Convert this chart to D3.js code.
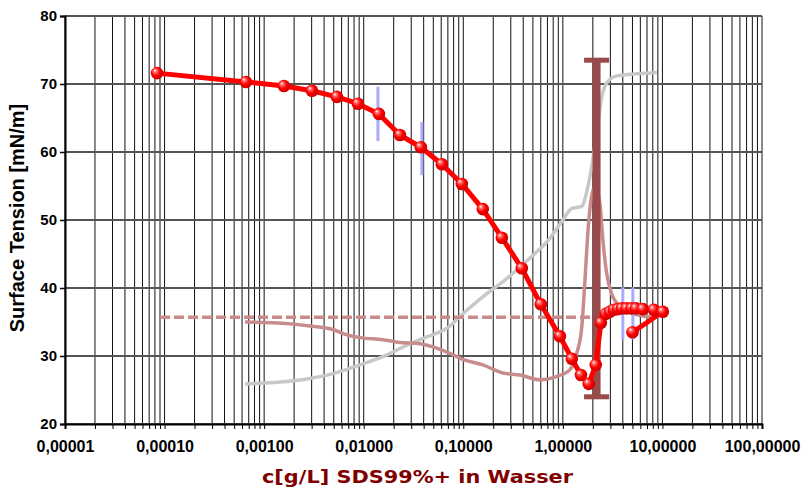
<!DOCTYPE html>
<html>
<head>
<meta charset="utf-8">
<script src="https://cdn.jsdelivr.net/npm/d3@7/dist/d3.min.js"></script>
<style>
  html, body { margin: 0; padding: 0; background: #fff; }
  svg { display: block; }
</style>
</head>
<body>
<svg id="chart" width="801" height="488"></svg>
<script>
// Surface tension of SDS solutions vs. concentration (log scale)

// Tick labels
const xTickValues = [1e-5, 1e-4, 1e-3, 1e-2, 1e-1, 1, 10, 100];
const xTickLabels = ["0,00001", "0,00010", "0,00100", "0,01000", "0,10000", "1,00000", "10,00000", "100,00000"];
const yTickValues = [20, 30, 40, 50, 60, 70, 80];

// Measured series (red markers)
const measX = [8.4e-5, 6.56e-4, 1.58e-3, 3.02e-3, 5.38e-3, 8.75e-3, 0.0142, 0.0231, 0.0375, 0.061,
  0.0968, 0.157, 0.244, 0.387, 0.601, 0.933, 1.23, 1.52, 1.82, 2.14, 2.41, 2.70, 2.96, 3.25,
  3.57, 3.91, 4.36, 4.90, 5.41, 6.35, 8.19, 10.1, 5.01];
const measY = [71.6, 70.3, 69.7, 69.0, 68.1, 67.1, 65.6, 62.5, 60.7, 58.2,
  55.3, 51.6, 47.4, 42.9, 37.6, 32.9, 29.6, 27.2, 25.9, 28.7, 34.9, 36.2, 36.5, 36.8,
  36.9, 37.0, 37.0, 37.0, 37.0, 36.9, 36.8, 36.5, 33.5];

// Error bars on selected points
const errX = [0.0139, 0.0384, 4.0, 5.05];
const errLow = [61.6, 56.6, 32.4, 32.4];
const errHigh = [69.6, 64.4, 40.1, 40.1];

// Reference curve (gray)
const grayX = [6.42e-4, 1.545e-3, 2.88e-3, 4.91e-3, 9.16e-3, 0.0156, 0.0272, 0.0431, 0.0734, 0.0924,
  0.157, 0.274, 0.467, 0.740, 1.00, 1.23, 1.55, 1.74, 1.96, 2.25, 2.46, 2.77, 3.49, 5.53, 8.79];
const grayY = [25.9, 26.2, 26.7, 27.4, 28.7, 29.9, 31.6, 32.8, 34.4, 35.8,
  38.7, 41.4, 44.4, 47.3, 50.0, 51.7, 52.0, 54.2, 58.1, 64.3, 68.1, 70.2, 71.2, 71.5, 71.7];

// Reference curve (rose)
const roseX = [6.42e-4, 1.545e-3, 2.88e-3, 4.91e-3, 6.18e-3, 9.16e-3, 0.0156, 0.0231, 0.0367, 0.0734,
  0.0991, 0.157, 0.250, 0.370, 0.588, 0.871, 1.18, 1.38, 1.55, 1.66, 1.80, 1.94, 2.10, 2.35,
  2.54, 2.75, 3.08, 3.74, 4.93, 7.83];
const roseY = [35.0, 34.8, 34.4, 33.9, 33.3, 32.7, 32.4, 32.0, 31.8, 30.4,
  29.5, 28.7, 27.5, 27.2, 26.5, 27.0, 28.0, 30.4, 34.3, 40.7, 49.0, 53.4, 54.9, 52.5,
  46.6, 42.2, 39.2, 37.3, 36.3, 35.7];

// Plateau level (dashed) and CMC marker
const plateauX = [9.0e-5, 3.0];
const plateauY = 35.7;
const cmcX = 2.18;
const cmcRange = [24.0, 73.5];

const svg = d3.select("#chart");
const plotLeft = 65, plotRight = 762, plotTop = 16, plotBottom = 424;

const x = d3.scaleLog().domain([1e-5, 100]).range([plotLeft, plotRight]);
const y = d3.scaleLinear().domain([20, 80]).range([plotBottom, plotTop]);

// gradient for the spherical markers
const defs = svg.append("defs");
const grad = defs.append("radialGradient").attr("id", "ball")
  .attr("cx", "45%").attr("cy", "45%").attr("r", "60%")
  .attr("fx", "32%").attr("fy", "28%");
grad.append("stop").attr("offset", "0%").attr("stop-color", "#ffffff");
grad.append("stop").attr("offset", "22%").attr("stop-color", "#ff7070");
grad.append("stop").attr("offset", "55%").attr("stop-color", "#ff0000");
grad.append("stop").attr("offset", "100%").attr("stop-color", "#c00000");

// all minor/major positions of the log axis
const gridX = [];
for (let e = -5; e <= 2; e++) {
  for (let m = 1; m <= 9; m++) {
    const v = m * Math.pow(10, e);
    if (v <= 100.0001) gridX.push(v);
  }
}

const grid = svg.append("g");
grid.selectAll("line.v").data(gridX).join("line")
  .attr("x1", d => x(d)).attr("x2", d => x(d))
  .attr("y1", plotTop).attr("y2", plotBottom)
  .attr("stroke", "#111").attr("stroke-width", 1);
grid.selectAll("line.h").data(yTickValues).join("line")
  .attr("x1", plotLeft).attr("x2", plotRight)
  .attr("y1", d => y(d)).attr("y2", d => y(d))
  .attr("stroke", "#555").attr("stroke-width", 2);

// axes
const xAxis = d3.axisBottom(x).tickValues(gridX).tickSize(5)
  .tickFormat(d => { const i = xTickValues.findIndex(v => Math.abs(v - d) / v < 1e-6); return i >= 0 ? xTickLabels[i] : ""; });
const gx = svg.append("g").attr("transform", `translate(0,${plotBottom})`).call(xAxis);
gx.select(".domain").attr("stroke", "#000").attr("stroke-width", 2);
gx.selectAll(".tick line").attr("stroke", "#000").attr("stroke-width", 1);
gx.selectAll(".tick text").attr("font-family", "Liberation Sans, Arial, sans-serif")
  .attr("font-weight", "bold").attr("font-size", "16px").attr("fill", "#000").attr("dy", "1.25em");

const yAxis = d3.axisLeft(y).tickValues(yTickValues).tickSize(5).tickFormat(d3.format("d"));
const gy = svg.append("g").attr("transform", `translate(${plotLeft},0)`).call(yAxis);
gy.select(".domain").attr("stroke", "#000").attr("stroke-width", 2);
gy.selectAll(".tick line").attr("stroke", "#000").attr("stroke-width", 1.5);
gy.selectAll(".tick text").attr("font-family", "Liberation Sans, Arial, sans-serif")
  .attr("font-weight", "bold").attr("font-size", "15px").attr("fill", "#000").attr("x", -8);

// axis titles
svg.append("text")
  .attr("transform", `translate(24,218) rotate(-90)`)
  .attr("text-anchor", "middle")
  .attr("font-family", "Liberation Sans, Arial, sans-serif")
  .attr("font-weight", "bold").attr("font-size", "20px").attr("fill", "#000")
  .text("Surface Tension [mN/m]");

svg.append("text")
  .attr("x", 262).attr("y", 483)
  .attr("textLength", 311).attr("lengthAdjust", "spacingAndGlyphs")
  .attr("font-family", "DejaVu Sans, Verdana, sans-serif")
  .attr("font-weight", "bold").attr("font-size", "18.5px").attr("fill", "#800000")
  .text("c[g/L] SDS99%+ in Wasser");

const plot = svg.append("g");

// reference curves
const curve = (xs, ys) => d3.line().x((d, i) => x(xs[i])).y((d, i) => y(ys[i])).curve(d3.curveMonotoneX)(xs);
plot.append("path").attr("d", curve(grayX, grayY))
  .attr("fill", "none").attr("stroke", "#c8c8c8").attr("stroke-width", 3.5).attr("stroke-linejoin", "round");
plot.append("path").attr("d", curve(roseX, roseY))
  .attr("fill", "none").attr("stroke", "#c98c8c").attr("stroke-width", 3.5).attr("stroke-linejoin", "round");

// plateau line
plot.append("line")
  .attr("x1", x(plateauX[0])).attr("x2", x(plateauX[1]))
  .attr("y1", y(plateauY)).attr("y2", y(plateauY))
  .attr("stroke", "#c98c8c").attr("stroke-width", 3.5).attr("stroke-dasharray", "10,4");

// error bars
plot.selectAll("line.err").data(errX).join("line")
  .attr("x1", d => x(d)).attr("x2", d => x(d))
  .attr("y1", (d, i) => y(errLow[i])).attr("y2", (d, i) => y(errHigh[i]))
  .attr("stroke", "#aaaaff").attr("stroke-width", 3);

// CMC marker
const cmc = plot.append("g").attr("fill", "#9a4a4a");
cmc.append("rect").attr("x", x(cmcX) - 4).attr("width", 8)
  .attr("y", y(cmcRange[1])).attr("height", y(cmcRange[0]) - y(cmcRange[1]));
cmc.selectAll("rect.cap").data(cmcRange).join("rect")
  .attr("x", x(cmcX) - 12.5).attr("width", 25)
  .attr("y", d => y(d) - 2.5).attr("height", 5);

// measured series
plot.append("path")
  .attr("d", d3.line().x((d, i) => x(measX[i])).y((d, i) => y(measY[i]))(measX))
  .attr("fill", "none").attr("stroke", "#ff0000").attr("stroke-width", 5).attr("stroke-linejoin", "round");
plot.selectAll("circle.pt").data(measX).join("circle")
  .attr("cx", d => x(d)).attr("cy", (d, i) => y(measY[i])).attr("r", 6.3)
  .attr("fill", "url(#ball)");
</script>
</body>
</html>
